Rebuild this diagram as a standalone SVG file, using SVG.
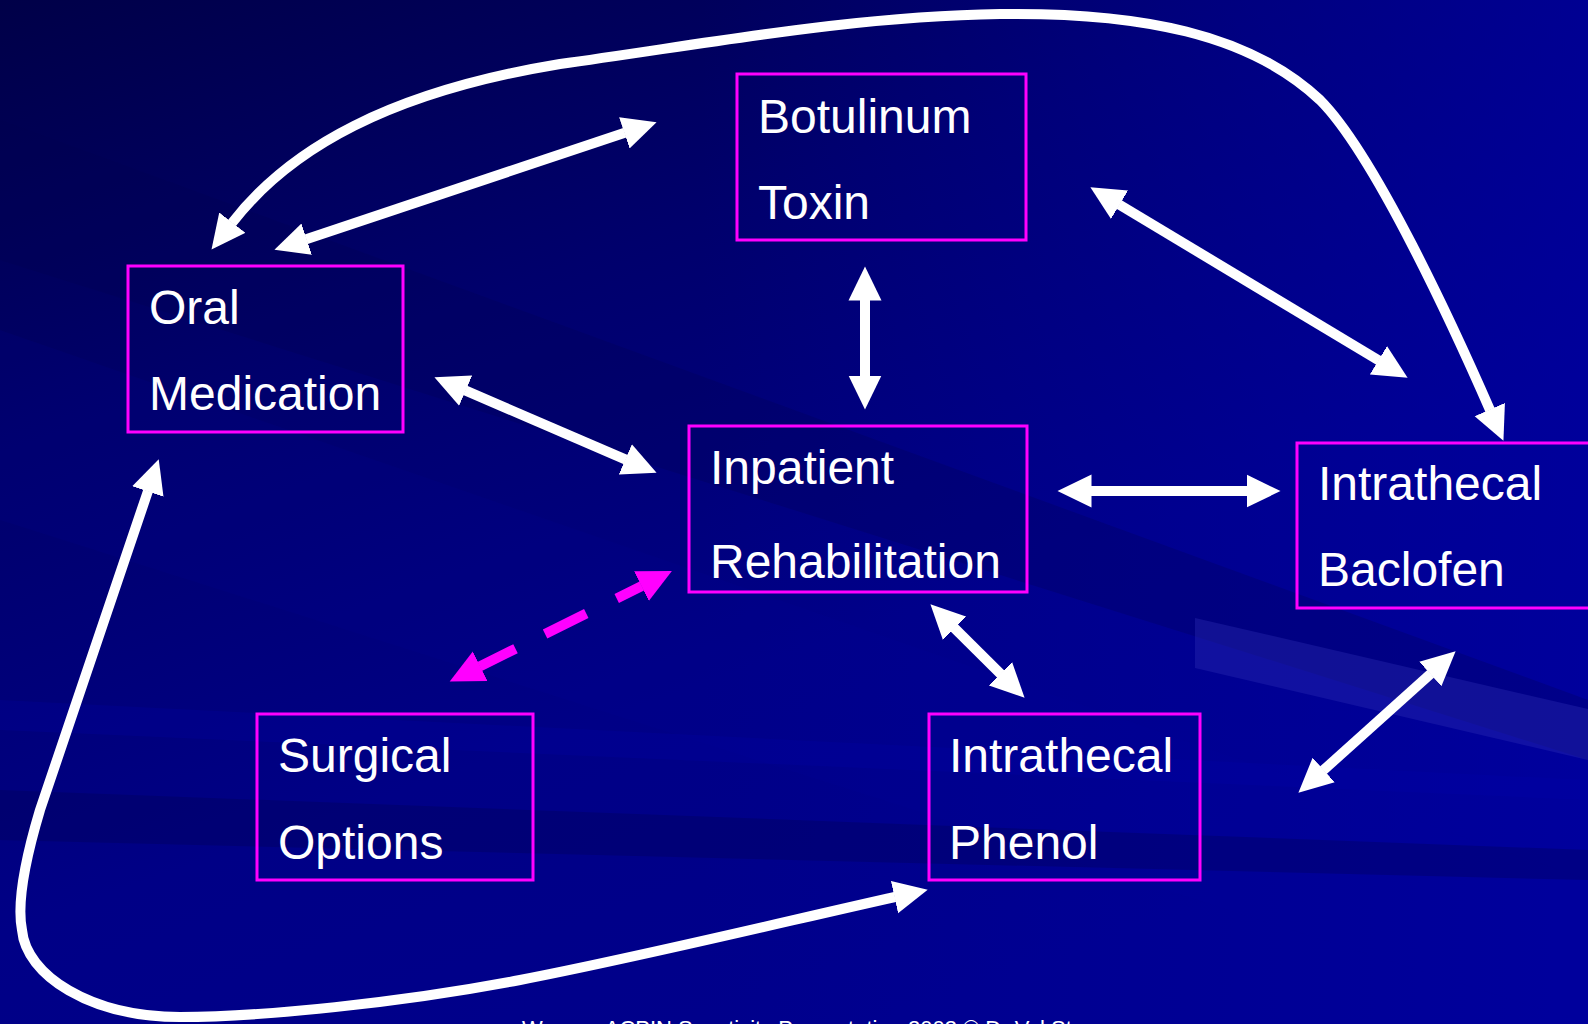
<svg xmlns="http://www.w3.org/2000/svg" width="1588" height="1024" viewBox="0 0 1588 1024">
<defs>
<linearGradient id="bg" x1="0" y1="0" x2="0.55" y2="1">
<stop offset="0" stop-color="#000048"/>
<stop offset="0.35" stop-color="#00006c"/>
<stop offset="0.7" stop-color="#000086"/>
<stop offset="1" stop-color="#00008c"/>
</linearGradient>
<linearGradient id="rgt" x1="0" y1="0" x2="1" y2="0">
<stop offset="0" stop-color="#0000a0" stop-opacity="0"/>
<stop offset="1" stop-color="#0000a8" stop-opacity="0.6"/>
</linearGradient>
<marker id="hw" viewBox="0 -17 35 34" markerWidth="35" markerHeight="34" refX="0.5" refY="0" orient="auto-start-reverse" markerUnits="userSpaceOnUse">
<path d="M0,-16.5 L34,0 L0,16.5 Z" fill="#ffffff"/>
</marker>
<marker id="hm" viewBox="0 -17 35 34" markerWidth="35" markerHeight="34" refX="0.5" refY="0" orient="auto-start-reverse" markerUnits="userSpaceOnUse">
<path d="M0,-16.5 L34,0 L0,16.5 Z" fill="#ff00ff"/>
</marker>
<style>
.box{fill:none;stroke:#ff00ff;stroke-width:3}
.lbl{font-family:"Liberation Sans",Arial,sans-serif;font-size:48px;fill:#ffffff}
.w{fill:none;stroke:#ffffff;stroke-width:10;marker-start:url(#hw);marker-end:url(#hw)}
.m{fill:none;stroke:#ff00ff;stroke-width:10;stroke-dasharray:40 33 46 34 28;marker-start:url(#hm);marker-end:url(#hm)}
.foot{font-family:"Liberation Sans",Arial,sans-serif;font-size:22px;fill:#ffffff}
</style>
</defs>
<g id="background">
<rect width="1588" height="1024" fill="url(#bg)"/>
<rect x="700" y="0" width="888" height="1024" fill="url(#rgt)"/>
<polygon points="0,120 1588,700 1588,760 0,260" fill="#000050" opacity="0.25"/>
<polygon points="0,330 1588,880 1588,1024 0,520" fill="#0000a0" opacity="0.12"/>
<polygon points="0,790 1588,850 1588,880 0,840" fill="#000050" opacity="0.3"/>
<polygon points="0,700 1588,780 1588,800 0,730" fill="#0000b0" opacity="0.2"/>
<polygon points="1195,618 1588,709 1588,760 1195,668" fill="#3030b8" opacity="0.35"/>
</g>
<g id="connectors">
<path class="w" d="M306.2,239.2 L624.8,132.8"/>
<path class="w" d="M465.2,390.4 L625.8,459.6"/>
<path class="w" d="M865,300 L865,376"/>
<path class="w" d="M1119.1,204.5 L1378.9,360.5"/>
<path class="w" d="M1091,491 L1247,491"/>
<path class="w" d="M954.2,627.9 L1000.8,674.1"/>
<path class="w" d="M1430.7,673.7 L1323.3,770.3"/>
<path class="m" d="M479.7,666.5 L641.9,585.9"/>
<path class="w" d="M232,223 C290,148 390,92 560,64 C700,45 850,16 1000,14 C1140,12 1250,34 1320,100 C1375,155 1455,330 1490,410"/>
<path class="w" d="M148,491 L40,810 C28,850 16,900 22,930 C26,975 90,1017 180,1017 C260,1017 400,1003 520,980 C640,957 800,918 895,897"/>
</g>
<g id="node-botulinum">
<rect class="box" x="737" y="74" width="289" height="166"/>
<text class="lbl" x="758" y="133">Botulinum</text>
<text class="lbl" x="758" y="219">Toxin</text>
</g>
<g id="node-oral">
<rect class="box" x="128" y="266" width="275" height="166"/>
<text class="lbl" x="149" y="324">Oral</text>
<text class="lbl" x="149" y="410">Medication</text>
</g>
<g id="node-inpatient">
<rect class="box" x="689" y="426" width="338" height="166"/>
<text class="lbl" x="710" y="484">Inpatient</text>
<text class="lbl" x="710" y="578">Rehabilitation</text>
</g>
<g id="node-baclofen">
<rect class="box" x="1297" y="443" width="300" height="165"/>
<text class="lbl" x="1318" y="500">Intrathecal</text>
<text class="lbl" x="1318" y="586">Baclofen</text>
</g>
<g id="node-surgical">
<rect class="box" x="257" y="714" width="276" height="166"/>
<text class="lbl" x="278" y="772">Surgical</text>
<text class="lbl" x="278" y="859">Options</text>
</g>
<g id="node-phenol">
<rect class="box" x="929" y="714" width="271" height="166"/>
<text class="lbl" x="949" y="772">Intrathecal</text>
<text class="lbl" x="949" y="859">Phenol</text>
</g>
<text class="foot" x="522" y="1036">Wessex ACPIN Spasticity Presentation 2003 © Dr Val Stevenson</text>
</svg>
